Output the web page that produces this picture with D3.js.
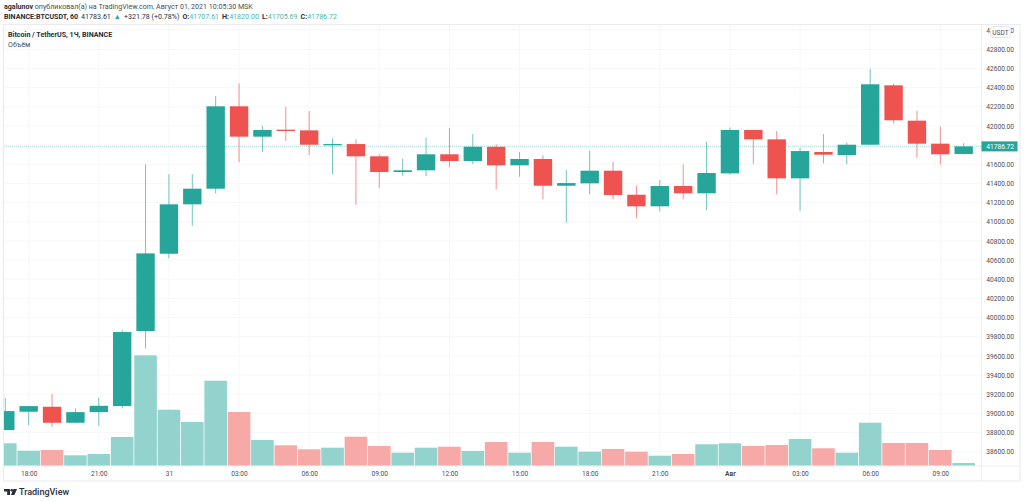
<!DOCTYPE html>
<html>
<head>
<meta charset="utf-8">
<script src="https://cdn.jsdelivr.net/npm/d3@7/dist/d3.min.js"></script>
<style>
  html, body { margin: 0; padding: 0; background: #fff; }
  text { font-family: Roboto, "Noto Sans", sans-serif; }
</style>
</head>
<body>
<div id="chart"></div>
<script>
'use strict';

// hourly candles, 30 Jul 17:00 -> 1 Aug 10:00
const opens = [38826, 39017, 39069, 38902, 39013, 39076, 39859, 40666, 41182, 41345, 42205,
  41888, 41961, 41954, 41798, 41811, 41683, 41519, 41537, 41704, 41634, 41783, 41589, 41655,
  41376, 41401, 41533, 41282, 41161, 41373, 41297, 41505, 41958, 41860, 41453, 41728, 41696,
  41804, 42424, 42055, 41815, 41707.61];
const highs = [39163, 39076, 39202, 39052, 39163, 39870, 41599, 41498, 41498, 42312, 42445,
  42000, 42200, 42156, 41871, 41860, 41704, 41658, 41881, 41978, 41916, 41808, 41728, 41693,
  41540, 41741, 41627, 41373, 41436, 41599, 41835, 41986, 41958, 41947, 41773, 41916, 41825,
  42597, 42440, 42159, 41992, 41820];
const lows = [38826, 38878, 38860, 38902, 38870, 39052, 39678, 40618, 40958, 41297, 41620,
  41731, 41843, 41697, 41495, 41175, 41349, 41477, 41477, 41568, 41603, 41338, 41470, 41234,
  40990, 41289, 41234, 41036, 41109, 41234, 41122, 41488, 41603, 41286, 41115, 41610, 41599,
  41804, 42027, 41668, 41599, 41705.69];
const closes = [39024, 39076, 38902, 39013, 39079, 39849, 40670, 41182, 41345, 42205, 41888,
  41958, 41947, 41804, 41811, 41683, 41519, 41537, 41704, 41634, 41783, 41589, 41655, 41376,
  41404, 41533, 41279, 41161, 41373, 41297, 41509, 41958, 41860, 41453, 41738, 41700, 41804,
  42435, 42059, 41815, 41704, 41786.72];
const volumes = [896, 600, 628, 416, 468, 1148, 4416, 2240, 1748, 3400, 2148, 1028, 816, 656,
  720, 1160, 788, 520, 720, 760, 588, 948, 520, 948, 760, 560, 668, 560, 400, 468, 856, 896,
  788, 828, 1068, 696, 520, 1720, 908, 908, 628, 108];

const priceTicks = d3.range(38600, 43001, 200);
const timeTickIdx = [1, 4, 7, 10, 13, 16, 19, 22, 25, 28, 31, 34, 37, 40];
const timeTickLabels = ["18:00", "21:00", "31", "03:00", "06:00", "09:00", "12:00", "15:00",
  "18:00", "21:00", "Авг", "03:00", "06:00", "09:00"];
const lastPrice = 41786.72;

const width = 1024, height = 502;
const GREEN = "#26a69a", RED = "#ef5350";
const GREEN_VOL = "#93d3cd", RED_VOL = "#f7a9a8";
const AXIS_FONT = 6.6, HEAD_FONT = 7.1;

const paneLeft = 4, paneRight = 981.5, paneTop = 25, paneBottom = 465.7, frameRight = 1020, frameBottom = 481;

const x = d3.scaleLinear().domain([0, 41]).range([5.3, 963.7]);
const y = d3.scaleLinear().domain([38600, 42800]).range([451.7, 49.3]);
const yVol = d3.scaleLinear().domain([0, 4416]).range([paneBottom, paneBottom - 110.4]);

const svg = d3.select("#chart").append("svg")
  .attr("width", width).attr("height", height)
  .style("display", "block");

svg.append("defs").append("clipPath").attr("id", "pane")
  .append("rect")
  .attr("x", paneLeft).attr("y", paneTop)
  .attr("width", paneRight - paneLeft).attr("height", paneBottom - paneTop);

/* frame */
svg.append("rect")
  .attr("x", 3.5).attr("y", 24.5)
  .attr("width", frameRight - 3.5).attr("height", frameBottom - 24.5)
  .attr("fill", "none").attr("stroke", "#e9ebee");

/* grid */
const grid = svg.append("g").attr("stroke", "#f6f7f9").attr("stroke-width", 1);
grid.selectAll("line.h").data(priceTicks).enter().append("line")
  .attr("x1", paneLeft).attr("x2", paneRight)
  .attr("y1", d => y(d)).attr("y2", d => y(d));
grid.selectAll("line.v").data(timeTickIdx).enter().append("line")
  .attr("x1", d => x(d)).attr("x2", d => x(d))
  .attr("y1", paneTop).attr("y2", paneBottom);

/* separators */
svg.append("line").attr("x1", paneRight).attr("x2", paneRight).attr("y1", 24.5).attr("y2", frameBottom)
  .attr("stroke", "#eceef1");
svg.append("line").attr("x1", paneLeft).attr("x2", frameRight).attr("y1", paneBottom + .3).attr("y2", paneBottom + .3)
  .attr("stroke", "#eceef1");

const pane = svg.append("g").attr("clip-path", "url(#pane)");
const idx = d3.range(opens.length);

/* volume */
const volW = 22.6;
pane.append("g").selectAll("rect").data(idx).enter().append("rect")
  .attr("x", i => x(i) - volW / 2)
  .attr("width", volW)
  .attr("y", i => yVol(volumes[i]))
  .attr("height", i => yVol(0) - yVol(volumes[i]))
  .attr("fill", i => closes[i] >= opens[i] ? GREEN_VOL : RED_VOL);

/* last price line */
pane.append("line")
  .attr("x1", paneLeft).attr("x2", paneRight)
  .attr("y1", y(lastPrice)).attr("y2", y(lastPrice))
  .attr("stroke", GREEN).attr("stroke-opacity", .35)
  .attr("stroke-dasharray", "1 1");

/* candles */
const bodyW = 18.4;
const candles = pane.append("g").selectAll("g").data(idx).enter().append("g")
  .attr("fill", i => closes[i] >= opens[i] ? GREEN : RED)
  .attr("stroke", i => closes[i] >= opens[i] ? GREEN : RED);
candles.append("line")
  .attr("x1", i => x(i)).attr("x2", i => x(i))
  .attr("y1", i => y(highs[i])).attr("y2", i => y(lows[i]))
  .attr("stroke-opacity", .65);
candles.append("rect")
  .attr("x", i => x(i) - bodyW / 2)
  .attr("width", bodyW)
  .attr("y", i => y(Math.max(opens[i], closes[i])))
  .attr("height", i => Math.max(1, Math.abs(y(opens[i]) - y(closes[i]))))
  .attr("stroke", "none");

/* price axis */
const yAxis = d3.axisRight(y).tickValues(priceTicks)
  .tickFormat(d3.format(".2f")).tickSize(0);
const yG = svg.append("g").attr("transform", `translate(${paneRight},0)`).call(yAxis);
yG.select(".domain").remove();
yG.selectAll("text")
  .attr("x", 32.5).attr("text-anchor", "end")
  .attr("font-size", AXIS_FONT).attr("fill", "#4a4e59");

/* time axis */
const xAxis = d3.axisBottom(x).tickValues(timeTickIdx)
  .tickFormat(d => timeTickLabels[timeTickIdx.indexOf(d)]).tickSize(0);
const xG = svg.append("g").attr("transform", `translate(0,${paneBottom})`).call(xAxis);
xG.select(".domain").remove();
xG.selectAll("text")
  .attr("y", 5.5)
  .attr("font-size", AXIS_FONT)
  .attr("font-weight", d => timeTickLabels[timeTickIdx.indexOf(d)] === "Авг" ? 700 : 400)
  .attr("fill", "#4a4e59");

/* last price tag */
svg.append("rect")
  .attr("x", paneRight).attr("y", y(lastPrice) - 5)
  .attr("width", 36).attr("height", 10)
  .attr("fill", GREEN);
svg.append("text")
  .attr("x", paneRight + 32.5).attr("y", y(lastPrice) + 2.4)
  .attr("text-anchor", "end").attr("font-size", AXIS_FONT).attr("fill", "#fff")
  .text(d3.format(".2f")(lastPrice));

/* currency box */
svg.append("rect")
  .attr("x", 990.5).attr("y", 26.5)
  .attr("width", 20).attr("height", 11).attr("rx", 2)
  .attr("fill", "#fff").attr("stroke", "#e3e5e9");
svg.append("text")
  .attr("x", 1000.5).attr("y", 34.6)
  .attr("text-anchor", "middle").attr("font-size", AXIS_FONT).attr("fill", "#4a4e59")
  .text("USDT");

/* header */
const line1 = svg.append("text").attr("x", 4).attr("y", 9)
  .attr("font-size", HEAD_FONT).attr("fill", "#4a4e59");
line1.append("tspan").attr("font-weight", 700).attr("fill", "#2a2e39").text("agalunov");
line1.append("tspan").text(" опубликовал(а) на TradingView.com, Август 01, 2021 10:05:30 MSK");

const line2 = svg.append("text").attr("x", 4).attr("y", 19)
  .attr("font-size", HEAD_FONT).attr("fill", "#2a2e39");
line2.append("tspan").attr("font-weight", 700).text("BINANCE:BTCUSDT, 60");
line2.append("tspan").attr("dx", 3).text("41783.61");
line2.append("tspan").attr("dx", 3).attr("fill", GREEN).text("▲");
line2.append("tspan").attr("dx", 3).text("+321.78 (+0.78%)");
[["O:", "41707.61"], ["H:", "41820.00"], ["L:", "41705.69"], ["C:", "41786.72"]].forEach(p => {
  line2.append("tspan").attr("dx", 3).attr("font-weight", 700).text(p[0]);
  line2.append("tspan").attr("fill", "#4db6ac").text(p[1]);
});

svg.append("text").attr("x", 8).attr("y", 36.5)
  .attr("font-size", HEAD_FONT).attr("font-weight", 700).attr("fill", "#2a2e39")
  .text("Bitcoin / TetherUS, 1Ч, BINANCE");
svg.append("text").attr("x", 8).attr("y", 46.5)
  .attr("font-size", HEAD_FONT).attr("fill", "#4a4e59")
  .text("Объём");

/* logo */
const logo = svg.append("g").attr("fill", "#2a2e39");
logo.append("path").attr("d", "M4 489h6v6h-2.8V491.6H4z");
logo.append("circle").attr("cx", 11.8).attr("cy", 490.3).attr("r", 1.3);
logo.append("path").attr("d", "M13.5 489H17L14.4 495H10.9z");
svg.append("text").attr("x", 19).attr("y", 495)
  .attr("font-size", 9).attr("font-weight", 500).attr("fill", "#2a2e39")
  .text("TradingView");
</script>
</body>
</html>
